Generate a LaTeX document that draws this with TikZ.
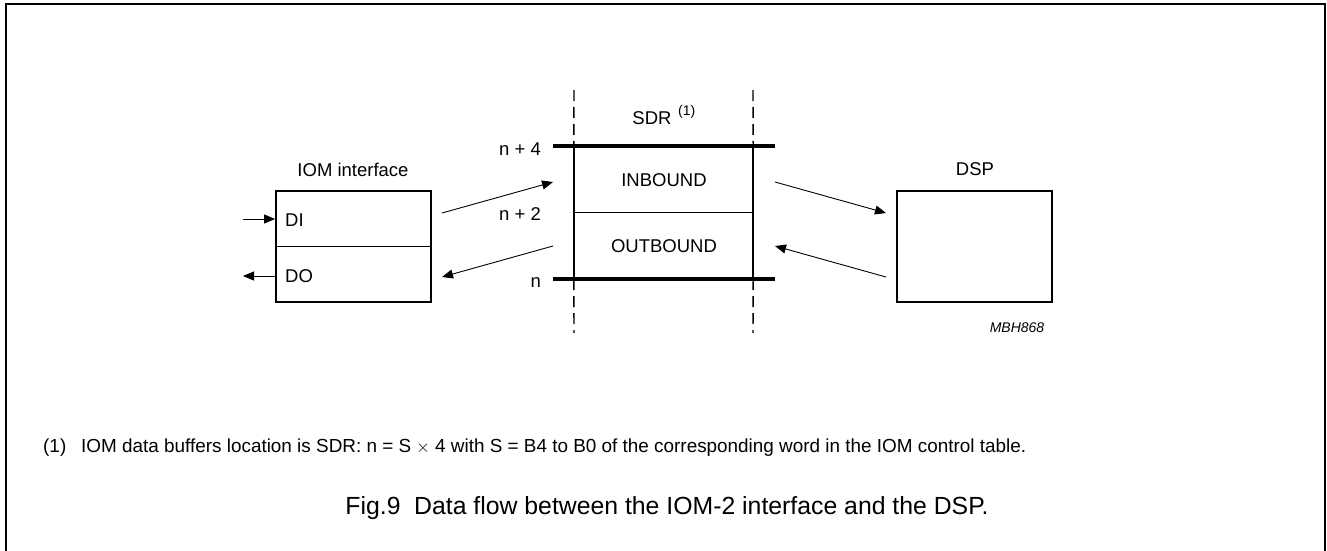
\documentclass[tikz,border=0pt]{standalone}
\usepackage{fontspec}
\setmainfont{Liberation Sans}
\usetikzlibrary{arrows.meta}
\begin{document}
\begin{tikzpicture}[x=1pt,y=-1pt,
  lbl/.style={font=\fontsize{18.5}{22}\selectfont, inner sep=0pt},
  boxnode/.style={draw, line width=1.8pt, minimum width=155pt, minimum height=111pt, inner sep=0pt},
  flow/.style={line width=0.9pt, -{Triangle[length=11pt,width=9pt]}},
  thickbar/.style={line width=3.5pt},
  guide/.style={line width=1.4pt, dash pattern=on 11pt off 6pt},
  side/.style={line width=1.5pt},
  fn/.style={inner sep=0pt, anchor=base west, font=\fontsize{18.9}{21}\selectfont},
]
\useasboundingbox (0,0) rectangle (1327,551);
\draw[line width=2pt] (6,560) -- (6,4) -- (1325,4) -- (1325,560);

% IOM interface
\node[boxnode] (iom) at (353.5,246.5) {};
\draw[line width=1.5pt] (iom.west) -- (iom.east);
\node[lbl] (iomlbl) at (353,170) {IOM interface};
\node[lbl, anchor=west] (di) at (285,220) {DI};
\node[lbl, anchor=west] (do) at (285,276) {DO};
\coordinate (inL) at (243,219);
\coordinate (inR) at (iom.west |- inL);
\coordinate (outL) at (243,276);
\coordinate (outR) at (iom.west |- outL);
\draw[flow] (inL) -- (inR);
\draw[flow] (outR) -- (outL);

% SDR
\node[minimum width=179pt, minimum height=133pt, inner sep=0pt] (sdr) at (663.5,212.5) {};
\draw[side] (sdr.north west) -- (sdr.south west);
\draw[side] (sdr.north east) -- (sdr.south east);
\draw[line width=1.2pt] (sdr.west) -- (sdr.east);
\coordinate (barTL) at (553,146);
\coordinate (barTR) at (775,146);
\coordinate (barBL) at (553,279);
\coordinate (barBR) at (775,279);
\draw[thickbar] (barTL) -- (barTR);
\draw[thickbar] (barBL) -- (barBR);
\coordinate (gLt) at (574,90);
\coordinate (gLb) at (574,333);
\coordinate (gRt) at (753,90);
\coordinate (gRb) at (753,333);
\draw[guide] (gLt) -- (sdr.north west);
\draw[guide] (sdr.south west) -- (gLb);
\draw[guide] (gRt) -- (sdr.north east);
\draw[guide] (sdr.south east) -- (gRb);
\node[lbl] (sdrlbl) at (652,118) {SDR};
\node[inner sep=0pt, anchor=west, font=\fontsize{14}{16}\selectfont] (sdrnote) at (678,112) {(1)};
\node[lbl] (inb) at (664,180) {INBOUND};
\node[lbl] (outb) at (664,246) {OUTBOUND};
\node[lbl, anchor=base east] (n4) at (541,155) {n + 4};
\node[lbl, anchor=base east] (n2) at (541,220) {n + 2};
\node[lbl, anchor=base east] (n0) at (541,287) {n};

% DSP
\node[boxnode] (dsp) at (974.5,246.5) {};
\node[lbl] (dsplbl) at (975,169) {DSP};
\node[inner sep=0pt, font=\fontsize{14}{16}\selectfont\itshape] (code) at (1017,328) {MBH868};

% flow arrows
\coordinate (a1) at (442,213);
\coordinate (a2) at (553,182);
\coordinate (b1) at (553,246);
\coordinate (b2) at (442,277);
\coordinate (c1) at (775,182);
\coordinate (c2) at (886,213);
\coordinate (d1) at (886,277);
\coordinate (d2) at (775,246);
\draw[flow] (a1) -- (a2);
\draw[flow] (b1) -- (b2);
\draw[flow] (c1) -- (c2);
\draw[flow] (d1) -- (d2);

% footnote and caption
\node[fn] (fnnum) at (43,452) {(1)};
\node[fn] (fntext) at (81,452) {IOM data buffers location is SDR: n = S $\times$ 4 with S = B4 to B0 of the corresponding word in the IOM control table.};
\node[inner sep=0pt, anchor=base, font=\fontsize{24.8}{28}\selectfont] (cap) at (667,514) {Fig.9\hspace{0.55em}Data flow between the IOM-2 interface and the DSP.};
\end{tikzpicture}
\end{document}
